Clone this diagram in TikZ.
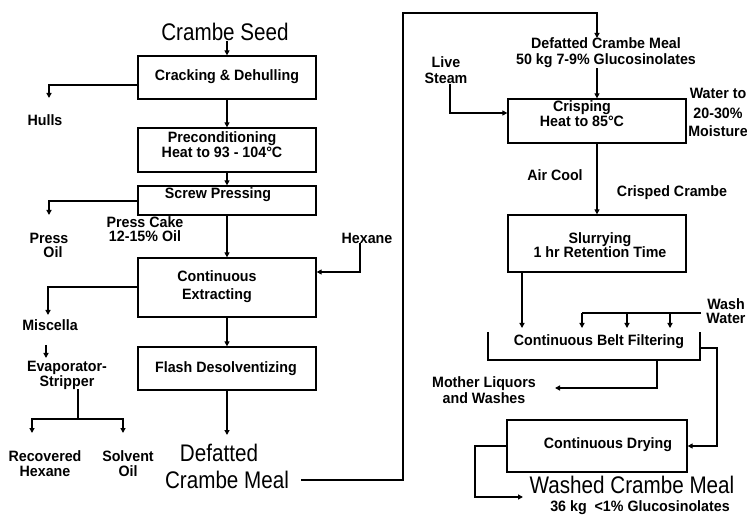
\documentclass[tikz,border=0pt]{standalone}
\usepackage{fontspec}
\setmainfont{Liberation Sans}
\newfontfamily\lblfont[FakeStretch=0.95]{Liberation Sans}
\newfontfamily\bigfont[FakeStretch=0.86]{Liberation Sans}
\newcommand{\lblf}{\lblfont\bfseries\fontsize{15}{15}\selectfont}
\newcommand{\bigf}{\bigfont\fontsize{24}{24}\selectfont}
\usetikzlibrary{arrows.meta}
\begin{document}
\begin{tikzpicture}[x=1pt,y=-1pt,
  procbox/.style={draw, line width=1.3pt, minimum width=178pt, inner sep=0pt},
  lbl/.style={font=\lblf, align=center, inner sep=0pt},
  big/.style={font=\bigf, inner sep=0pt},
  flow/.style={line width=2pt},
  arr/.style={flow, -{Triangle[length=5pt,width=5pt]}}]
\fill[white] (0,0) rectangle (747,518);
\useasboundingbox (0,0) rectangle (747,518);

% ---------- left column ----------
\node[big] (cs) at (225,32) {Crambe Seed};
\node[procbox, minimum height=43pt] (cr) at (227,77.5) {};
\node[lbl] (crt) at (227,77) {Cracking \& Dehulling};
\node[procbox, minimum height=44pt] (pc) at (227,150) {};
\node[lbl] (pct) at (222,145) {Preconditioning\\[0pt]Heat to 93 - 104°C};
\node[procbox, minimum height=29pt] (sp) at (227,200.5) {};
\node[lbl] (spt) at (218,195) {Screw Pressing};
\node[procbox, minimum height=59pt] (ce) at (227,287.5) {};
\node[lbl] (cet) at (217,287) {Continuous\\[3pt]Extracting};
\node[procbox, minimum height=43pt] (fd) at (227,368.5) {};
\node[lbl] (fdt) at (226,369) {Flash Desolventizing};
\node[big] (df) at (219,453) {Defatted};
\node[big] (cm) at (227,480) {Crambe Meal};

\node[lbl] (hu) at (45,120) {Hulls};
\node[lbl] (po) at (49,245) {Press\\[-1pt]\hspace*{8pt}Oil};
\node[lbl] (pk) at (145,229) {Press Cake\\[-1pt]12-15\% Oil};
\node[lbl] (hx) at (367,238) {Hexane};
\node[lbl] (mi) at (50,325) {Miscella};
\node[lbl] (es) at (67,375) {Evaporator-\\[0pt]Stripper};
\node[lbl] (rh) at (45,464) {Recovered\\Hexane};
\node[lbl] (so) at (128,464) {Solvent\\Oil};

\coordinate (hule) at (49,98);
\coordinate (pole) at (49,215);
\coordinate (mile) at (48,315);
\coordinate (evs) at (46,345);
\coordinate (eve) at (46,358);
\coordinate (ej) at (78,419);
\coordinate (rhe) at (32,433);
\coordinate (soe) at (123,433);
\coordinate (hxl) at (360,272);
\coordinate (fde) at (227,435);
\coordinate (d1) at (403,13);
\coordinate (d2) at (597,38);

\draw[arr] (cs.south -| cr.north) -- (cr.north);
\draw[arr] (cr.south) -- (pc.north);
\draw[arr] (pc.south) -- (sp.north);
\draw[arr] (sp.south) -- (ce.north);
\draw[arr] (ce.south) -- (fd.north);
\draw[arr] (fd.south) -- (fde);
\draw[arr] (cr.west |- 0,85) -| (hule);
\draw[arr] (sp.west |- 0,201) -| (pole);
\draw[arr] (ce.west |- 0,287) -| (mile);
\draw[arr] (hx.south -| hxl) -- (hxl) -- (ce.east |- hxl);
\draw[arr] (evs) -- (eve);
\draw[flow] (es.south -| ej) -- (ej);
\draw[arr] (ej) -| (rhe);
\draw[arr] (ej) -| (soe);
\draw[arr] ([xshift=12pt]cm.east) -| (d1) -| (d2);

% ---------- right column ----------
\node[lbl] (dcm) at (606,53) {Defatted Crambe Meal\\[1pt]50 kg 7-9\% Glucosinolates};
\node[lbl] (ls) at (446,70) {Live\\[1pt]Steam};
\node[procbox, minimum height=44pt] (ci) at (597,121) {};
\node[lbl] (cit) at (582,114) {Crisping\\[0pt]Heat to 85°C};
\node[lbl] (wt) at (718,112) {Water to\\[5pt]20-30\%\\[3pt]Moisture};
\node[lbl] (ac) at (555,175) {Air Cool};
\node[lbl] (cc) at (672,193) {Crisped Crambe};
\node[procbox, minimum height=57pt] (sl) at (597,243.5) {};
\node[lbl] (slt) at (600,245) {Slurrying\\[-1pt]1 hr Retention Time};
\node[lbl] (ww) at (726,311) {Wash\\[-1pt]Water};
\node[lbl] (bf) at (599,342) {Continuous Belt Filtering};
\node[lbl] (ml) at (484,390) {Mother Liquors\\[1pt]and Washes};
\node[procbox, minimum width=180pt, minimum height=52pt] (dr) at (597,446) {};
\node[lbl] (drt) at (608,445) {Continuous Drying};
\node[big] (wcm) at (632,485) {Washed Crambe Meal};
\node[lbl] (wg) at (640,508) {36 kg \ <1\% Glucosinolates};

\coordinate (lsc) at (450,113);
\coordinate (bfin) at (522,328);
\coordinate (bl) at (488,332);
\coordinate (bb) at (700,360);
\coordinate (br) at (700,332);
\coordinate (w0) at (701,313);
\coordinate (w1) at (582,313);
\coordinate (w2) at (627,313);
\coordinate (w3) at (670,313);
\coordinate (bo) at (700,348);
\coordinate (bo2) at (717,348);
\coordinate (mls) at (657,360);
\coordinate (mle) at (555,388);
\coordinate (dx1) at (475,497);
\coordinate (dx2) at (523,497);

\draw[arr] (dcm.south -| ci.north) -- (ci.north);
\draw[arr] (ls.south -| lsc) -- (lsc) -- (ci.west |- lsc);
\draw[arr] (ci.south) -- (sl.north);
\draw[arr] (sl.south -| bfin) -- (bfin);
\draw[flow] (bl) |- (bb) -- (br);
\draw[flow] (w0) -- (w1);
\draw[arr] (w1) -- ++(0,15);
\draw[arr] (w2) -- ++(0,15);
\draw[arr] (w3) -- ++(0,15);
\draw[arr] (bo) -- (bo2) |- (dr.east);
\draw[arr] (mls) |- (mle);
\draw[arr] (dr.west) -| (dx1) -- (dx2);
\end{tikzpicture}
\end{document}
